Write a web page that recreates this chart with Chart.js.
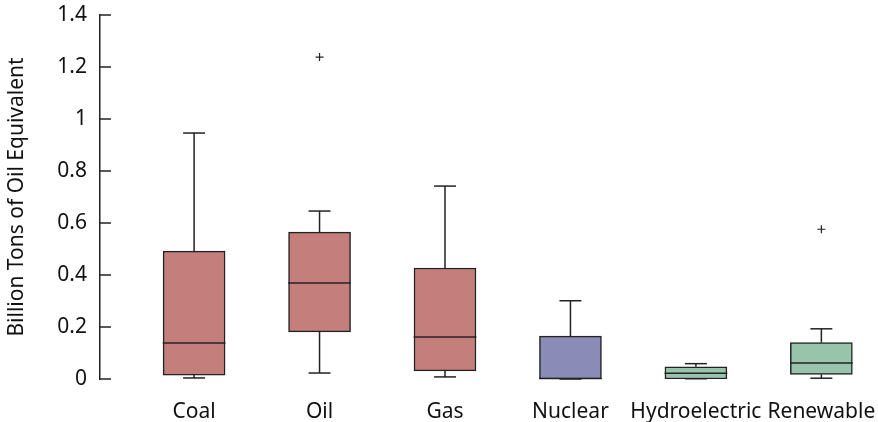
<!DOCTYPE html>
<html>
<head>
<meta charset="utf-8">
<script src="https://cdn.jsdelivr.net/npm/chart.js@4/dist/chart.umd.min.js"></script>
<style>
  html, body { margin: 0; padding: 0; background: #fff; }
  #wrap { width: 878px; height: 422px; }
</style>
</head>
<body>
<div id="wrap"><canvas id="box"></canvas></div>
<script>
// energy consumption box plot

const cats = ['Coal', 'Oil', 'Gas', 'Nuclear', 'Hydroelectric', 'Renewable'];
const wMin   = [0.004, 0.023, 0.008, 0.000, 0.001, 0.003];
const q1     = [0.015, 0.181, 0.031, 0.000, 0.000, 0.018];
const median = [0.138, 0.369, 0.162, 0.002, 0.022, 0.062];
const q3     = [0.492, 0.565, 0.427, 0.165, 0.047, 0.140];
const wMax   = [0.946, 0.646, 0.742, 0.301, 0.059, 0.193];
const outX   = [2, 6];
const outY   = [1.238, 0.576];
const yTicks = [0, 0.2, 0.4, 0.6, 0.8, 1, 1.2, 1.4];

const RED = '#c47f7d', PURPLE = '#8b8bb8', GREEN = '#97c4ab', INK = '#222';
const boxColors = [RED, RED, RED, PURPLE, GREEN, GREEN];
const FONT = "'Noto Sans', sans-serif";

// whiskers, caps, medians and inward y ticks
const boxParts = {
    id: 'boxParts',
    afterDatasetsDraw(chart) {
        const { ctx, scales: { x, y } } = chart;
        ctx.save();
        ctx.strokeStyle = INK;
        ctx.lineWidth = 1.5;
        const line = (x1, y1, x2, y2) => { ctx.beginPath(); ctx.moveTo(x1, y1); ctx.lineTo(x2, y2); ctx.stroke(); };
        cats.forEach((c, i) => {
            const cx = x.getPixelForValue(i + 1);
            const half = x.getPixelForValue(1.25) - x.getPixelForValue(1);
            const cap = x.getPixelForValue(1.0875) - x.getPixelForValue(1);
            line(cx, y.getPixelForValue(q3[i]), cx, y.getPixelForValue(wMax[i]));
            line(cx, y.getPixelForValue(q1[i]), cx, y.getPixelForValue(wMin[i]));
            line(cx - cap, y.getPixelForValue(wMax[i]), cx + cap, y.getPixelForValue(wMax[i]));
            line(cx - cap, y.getPixelForValue(wMin[i]), cx + cap, y.getPixelForValue(wMin[i]));
            line(cx - half, y.getPixelForValue(median[i]), cx + half, y.getPixelForValue(median[i]));
        });
        const left = chart.chartArea.left;
        y.ticks.forEach(t => {
            const py = y.getPixelForValue(t.value);
            line(left, py, left + 11, py);
        });
        ctx.restore();
    }
};

new Chart(document.getElementById('box'), {
    type: 'scatter',
    data: {
        datasets: [
            {
                type: 'bar',
                data: cats.map((c, i) => ({ x: i + 1, y: [q1[i], q3[i]] })),
                backgroundColor: boxColors,
                borderColor: INK,
                borderWidth: 1.5,
                borderSkipped: false,
                barThickness: 62
            },
            {
                type: 'scatter',
                data: outX.map((v, i) => ({ x: v, y: outY[i] })),
                pointStyle: 'cross',
                pointRadius: 4,
                borderColor: INK,
                borderWidth: 1.2
            }
        ]
    },
    options: {
        responsive: true,
        maintainAspectRatio: false,
        animation: false,
        layout: { padding: { top: 15, right: 0, left: 0, bottom: 0 } },
        plugins: { legend: { display: false }, tooltip: { enabled: false } },
        scales: {
            x: {
                type: 'linear', min: 0.25, max: 6.41, offset: false,
                afterBuildTicks: s => { s.ticks = cats.map((c, i) => ({ value: i + 1 })); },
                afterFit: s => { s.height = 43; s.paddingLeft = 0; s.paddingRight = 0; },
                grid: { display: false, drawTicks: false, offset: false },
                border: { display: false },
                ticks: { color: '#111', font: { family: FONT, size: 21 }, padding: 20, maxRotation: 0, autoSkip: false, callback: v => cats[v - 1] }
            },
            y: {
                type: 'linear', min: 0, max: 1.4,
                afterBuildTicks: s => { s.ticks = yTicks.map(v => ({ value: v })); },
                afterFit: s => { s.width = 100; s.paddingTop = 0; s.paddingBottom = 0; },
                grid: { display: false, drawTicks: false },
                border: { display: true, color: INK, width: 1.5 },
                title: { display: true, text: 'Billion Tons of Oil Equivalent', color: '#111', font: { family: FONT, size: 21 }, padding: { top: 4, bottom: 0 } },
                ticks: { color: '#111', font: { family: FONT, size: 21 }, padding: 13, callback: v => String(+v.toFixed(1)) }
            }
        }
    },
    plugins: [boxParts]
});
</script>
</body>
</html>
